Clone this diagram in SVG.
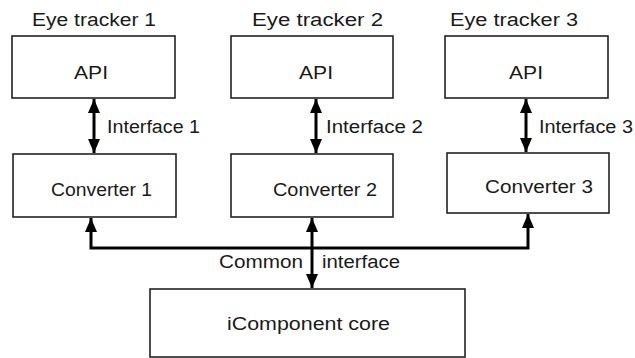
<svg xmlns="http://www.w3.org/2000/svg" width="635" height="358" viewBox="0 0 635 358">
  <style>
    .box { fill: #ffffff; stroke: #222222; stroke-width: 1.6; }
    .lbl { font-family: "Liberation Sans", Arial, sans-serif; font-size: 18px; fill: #1a1a1a; }
    .wire { fill: none; stroke: #000000; stroke-width: 3; }
  </style>
  <defs>
    <!-- solid triangular arrowhead used at both ends of every link -->
    <marker id="tip" viewBox="0 0 14 12" refX="14" refY="6" markerWidth="14" markerHeight="12" markerUnits="userSpaceOnUse" orient="auto-start-reverse">
      <path d="M0,0 L14,6 L0,12 Z" fill="#000000"/>
    </marker>
  </defs>
  <rect width="635" height="358" fill="#ffffff"/>

  <!-- tracker 1 -->
  <g id="tracker1">
    <text class="lbl" x="32" y="26" textLength="124" lengthAdjust="spacingAndGlyphs">Eye tracker 1</text>
    <rect class="box" x="12" y="36" width="163" height="62"/>
    <text class="lbl" x="74" y="79" textLength="34" lengthAdjust="spacingAndGlyphs">API</text>
  </g>
  <g id="converter1">
    <rect class="box" x="13" y="154" width="163" height="63"/>
    <text class="lbl" x="51" y="196" textLength="101" lengthAdjust="spacingAndGlyphs">Converter 1</text>
  </g>

  <!-- tracker 2 -->
  <g id="tracker2">
    <text class="lbl" x="252" y="26" textLength="131" lengthAdjust="spacingAndGlyphs">Eye tracker  2</text>
    <rect class="box" x="231" y="36" width="162" height="62"/>
    <text class="lbl" x="299" y="79" textLength="34" lengthAdjust="spacingAndGlyphs">API</text>
  </g>
  <g id="converter2">
    <rect class="box" x="231" y="154" width="162" height="63"/>
    <text class="lbl" x="273" y="196" textLength="104" lengthAdjust="spacingAndGlyphs">Converter 2</text>
  </g>

  <!-- tracker 3 -->
  <g id="tracker3">
    <text class="lbl" x="450" y="26" textLength="128" lengthAdjust="spacingAndGlyphs">Eye tracker  3</text>
    <rect class="box" x="445" y="36" width="163" height="62"/>
    <text class="lbl" x="509" y="79" textLength="34" lengthAdjust="spacingAndGlyphs">API</text>
  </g>
  <g id="converter3">
    <rect class="box" x="447" y="153" width="162" height="60"/>
    <text class="lbl" x="485" y="193" textLength="108" lengthAdjust="spacingAndGlyphs">Converter  3</text>
  </g>

  <!-- core -->
  <g id="core">
    <rect class="box" x="150" y="289" width="315" height="68"/>
    <text class="lbl" x="227" y="330" textLength="163" lengthAdjust="spacingAndGlyphs">iComponent  core</text>
  </g>

  <!-- connectors -->
  <g id="connectors">
    <line class="wire" x1="94" y1="99" x2="94" y2="153" marker-start="url(#tip)" marker-end="url(#tip)"/>
    <line class="wire" x1="316" y1="99" x2="316" y2="153" marker-start="url(#tip)" marker-end="url(#tip)"/>
    <line class="wire" x1="526" y1="99" x2="526" y2="152" marker-start="url(#tip)" marker-end="url(#tip)"/>
    <polyline class="wire" points="91,218 91,248 528,248 528,214" marker-start="url(#tip)" marker-end="url(#tip)"/>
    <line class="wire" x1="312" y1="218" x2="312" y2="288" marker-start="url(#tip)" marker-end="url(#tip)"/>
    <text class="lbl" x="107" y="133" textLength="93" lengthAdjust="spacingAndGlyphs">Interface 1</text>
    <text class="lbl" x="326" y="133" textLength="97" lengthAdjust="spacingAndGlyphs">Interface  2</text>
    <text class="lbl" x="539" y="133" textLength="94" lengthAdjust="spacingAndGlyphs">Interface 3</text>
    <text class="lbl" x="219" y="268" textLength="84" lengthAdjust="spacingAndGlyphs">Common</text>
    <text class="lbl" x="322" y="268" textLength="78" lengthAdjust="spacingAndGlyphs">interface</text>
  </g>
</svg>
